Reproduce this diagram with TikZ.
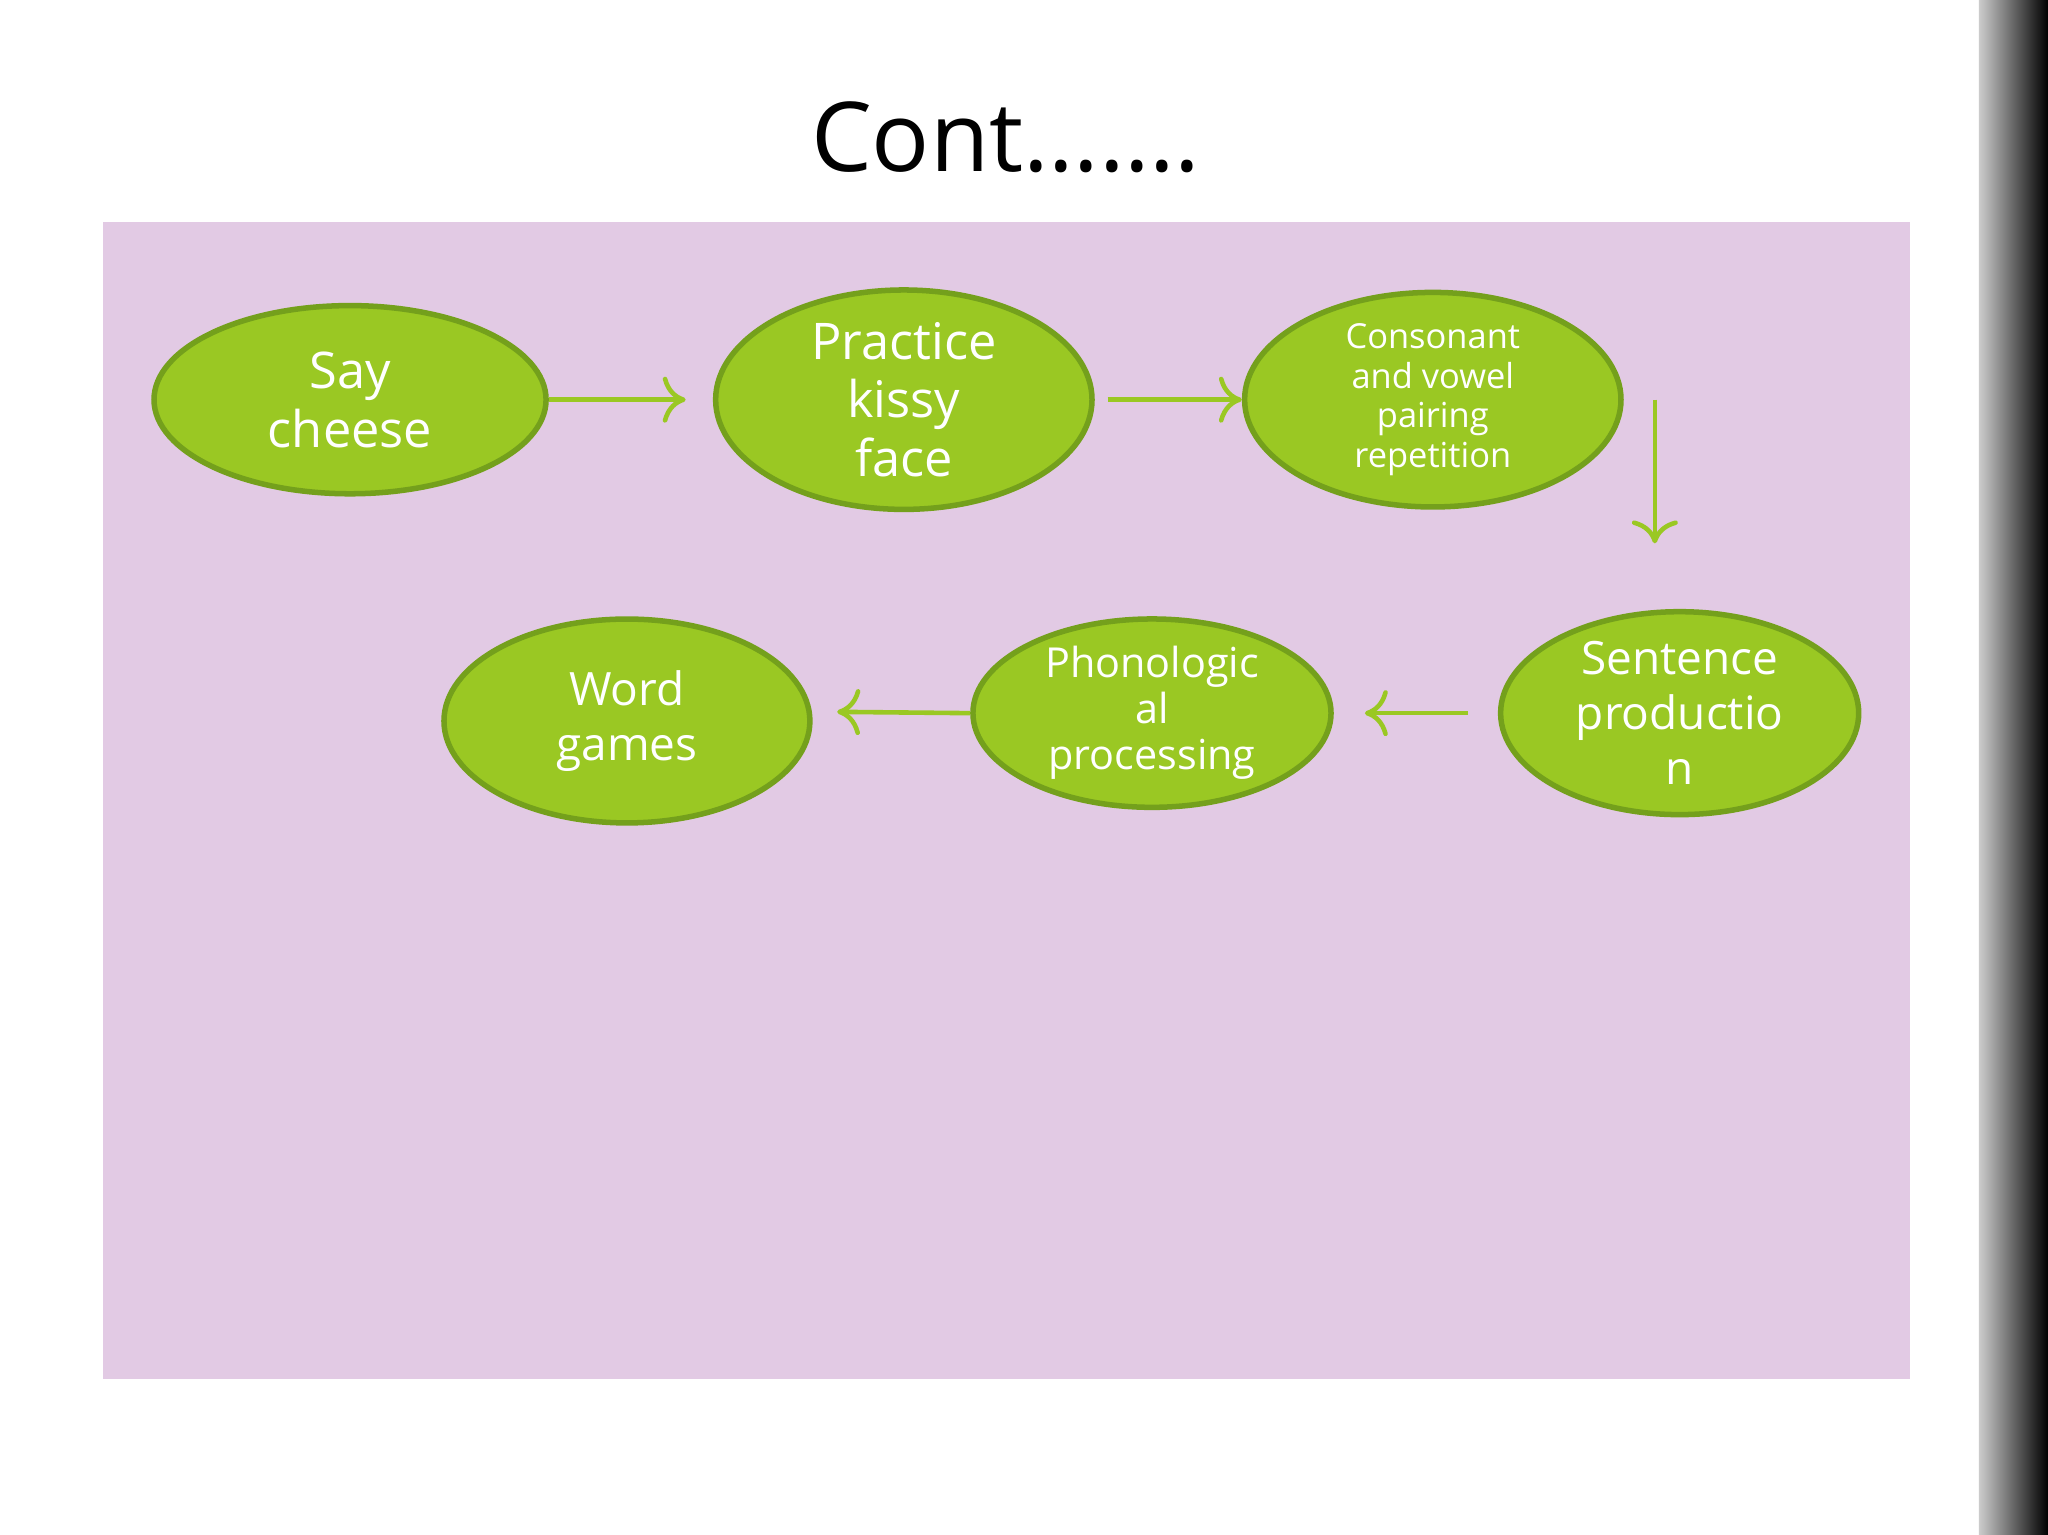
\documentclass[tikz,border=0pt]{standalone}
\usepackage{fontspec}
\setmainfont{Open Sans}
\usetikzlibrary{shapes.geometric,arrows.meta}
\definecolor{slidepink}{HTML}{E2CAE4}
\definecolor{stepgreen}{HTML}{9AC823}
\definecolor{stepline}{HTML}{74A01C}
\tikzset{
  stage/.style 2 args={ellipse, draw=stepline, line width=1.2pt, fill=stepgreen, text=white,
    inner sep=0pt, align=center, minimum width=#1, minimum height=#2},
  link/.style={draw=stepgreen, line width=1pt, -{To[length=5pt,width=10pt]}}
}
\begin{document}
\begin{tikzpicture}[x=0.01cm, y=-0.01cm]
\useasboundingbox (0,0) rectangle (1568,1175);
\fill[white] (0,0) rectangle (1568,1175);
\fill[slidepink] (79,170) rectangle (1462,1056);
\shade[left color=gray!40, right color=black] (1515,0) rectangle (1568,1175);
\draw (770,105) node[font=\fontsize{21pt}{25pt}\selectfont] (title) {Cont…….} ;
\draw (268,306) node[stage={3.00cm}{1.44cm}, font=\fontsize{11pt}{12.8pt}\selectfont] (say) {Say\\cheese} ;
\draw (692,306) node[stage={2.88cm}{1.44cm}, font=\fontsize{11pt}{12.8pt}\selectfont] (kissy) {Practice\\kissy\\face} ;
\draw (1097,306) node[stage={2.88cm}{1.44cm}, font=\fontsize{7.5pt}{8.6pt}\selectfont] (pair) {Consonant\\and vowel\\pairing\\repetition} ;
\draw (1286,546) node[stage={2.74cm}{1.44cm}, font=\fontsize{10pt}{12pt}\selectfont] (sentence) {Sentence\\productio\\n} ;
\draw (882,546) node[stage={2.74cm}{1.44cm}, font=\fontsize{9pt}{10pt}\selectfont] (phono) {Phonologic\\al\\processing} ;
\draw (480,552) node[stage={2.80cm}{1.56cm}, font=\fontsize{10pt}{12pt}\selectfont] (word) {Word\\games} ;
\coordinate (a1) at (525,306);
\coordinate (a2) at (848,306);
\coordinate (a3) at (1267,306);
\coordinate (a4) at (1267,416);
\coordinate (a5) at (1124,546);
\coordinate (a6) at (1045,546);
\coordinate (a7) at (641,545);
\draw[link] (say) -- (a1) ;
\draw[link] (a2) -- (pair) ;
\draw[link] (a3) -- (a4) ;
\draw[link] (a5) -- (a6) ;
\draw[link] (phono.west) -- (a7) ;
\end{tikzpicture}
\end{document}
